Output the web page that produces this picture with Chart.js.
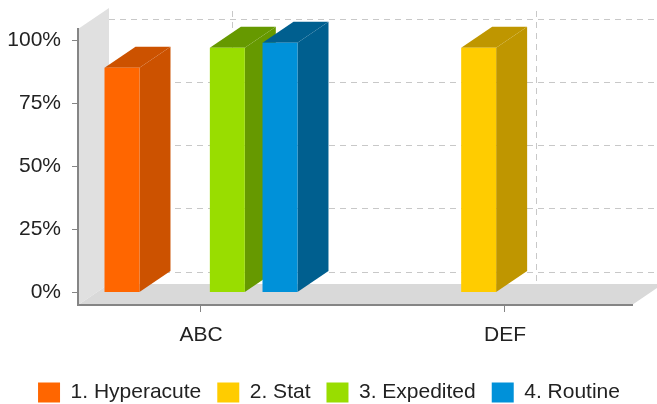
<!DOCTYPE html>
<html>
<head>
<meta charset="utf-8">
<script src="https://cdn.jsdelivr.net/npm/chart.js@4.4.1/dist/chart.umd.min.js"></script>
<style>
  body { margin: 0; background: #fff; }
  #wrap { width: 657px; height: 404px; }
</style>
</head>
<body>
<div id="wrap"><canvas id="priorityChart"></canvas></div>
<script>
// ========================
// DATA
// ========================
const categories = ["ABC", "DEF"];
const seriesNames = ["1. Hyperacute", "2. Stat", "3. Expedited", "4. Routine"];
const hyperacute = [89, null];
const stat = [null, 97];
const expedited = [97, null];
const routine = [99, null];
const yTicks = [0, 25, 50, 75, 100];

// front face / side face colours
const frontColors = ["#ff6600", "#ffcc00", "#99dd00", "#0091d9"];
const sideColors = ["#cc5200", "#bf9600", "#669900", "#005f8f"];

// depth offset of the fake 3d
const DX = 31;
const DY = -21;

// ========================
// 3D PLUGIN
// ========================
function poly(ctx, pts, fill) {
  ctx.beginPath();
  ctx.moveTo(pts[0][0], pts[0][1]);
  for (let i = 1; i < pts.length; i++) ctx.lineTo(pts[i][0], pts[i][1]);
  ctx.closePath();
  ctx.fillStyle = fill;
  ctx.fill();
}

const depthPlugin = {
  id: "depth",
  afterLayout(chart) {
    // legend is centred on the whole canvas, not the plot
    chart.legend.left += 13;
    chart.legend.right += 13;
  },
  beforeDraw(chart) {
    const { ctx, chartArea: a, scales } = chart;
    ctx.save();
    // left wall + floor
    poly(ctx, [[a.left, a.top], [a.left + DX, a.top + DY], [a.left + DX, a.bottom + DY], [a.left, a.bottom]], "#e0e0e0");
    poly(ctx, [[a.left, a.bottom], [a.left + DX, a.bottom + DY], [a.right + DX, a.bottom + DY], [a.right, a.bottom]], "#d9d9d9");

    // back wall grid
    ctx.strokeStyle = "#c8c8c8";
    ctx.lineWidth = 1;
    ctx.setLineDash([6, 5]);
    ctx.beginPath();
    yTicks.forEach(v => {
      const py = Math.round(scales.y.getPixelForValue(v) + DY) + 0.5;
      ctx.moveTo(a.left + DX, py);
      ctx.lineTo(a.right + DX, py);
    });
    categories.forEach((c, i) => {
      const px = Math.round(scales.x.getPixelForValue(i) + DX) + 0.5;
      ctx.moveTo(px, a.top + DY + 3);
      ctx.lineTo(px, a.bottom + DY);
    });
    ctx.stroke();
    ctx.restore();
  },
  beforeDatasetsDraw(chart) {
    const ctx = chart.ctx;
    const bars = [];
    chart.data.datasets.forEach((ds, di) => {
      chart.getDatasetMeta(di).data.forEach((el, i) => {
        if (ds.data[i] == null) return;
        const p = el.getProps(["x", "y", "base", "width"], true);
        bars.push({ ...p, color: sideColors[di] });
      });
    });
    // left to right, so bars on the right cover the ones before
    bars.sort((a, b) => a.x - b.x);
    ctx.save();
    bars.forEach(b => {
      const l = b.x - b.width / 2;
      const r = b.x + b.width / 2;
      poly(ctx, [[r, b.y], [r + DX, b.y + DY], [r + DX, b.base + DY], [r, b.base]], b.color);
      poly(ctx, [[l, b.y], [l + DX, b.y + DY], [r + DX, b.y + DY], [r, b.y]], b.color);
    });
    ctx.restore();
  }
};

// ========================
// CHART
// ========================
const seriesData = [hyperacute, stat, expedited, routine];
const font = { family: "'Liberation Sans', Arial, sans-serif", size: 21 };

new Chart(document.getElementById("priorityChart"), {
  type: "bar",
  data: {
    labels: categories.map((c, i) => i),
    datasets: seriesNames.map((name, i) => ({
      label: name,
      data: seriesData[i],
      backgroundColor: frontColors[i],
      borderWidth: 0,
      categoryPercentage: 0.693,
      barPercentage: 0.664
    }))
  },
  plugins: [depthPlugin],
  options: {
    responsive: true,
    maintainAspectRatio: false,
    animation: false,
    layout: { padding: { top: 29, right: 25, left: 0, bottom: 0 } },
    plugins: {
      tooltip: { enabled: false },
      legend: {
        position: "bottom",
        maxHeight: 38,
        labels: {
          boxWidth: 22,
          boxHeight: 20,
          padding: 16,
          color: "#222",
          font
        }
      }
    },
    scales: {
      x: {
        type: "linear",
        min: -0.4046,
        max: 1.4178,
        offset: false,
        afterBuildTicks: s => { s.ticks = categories.map((c, i) => ({ value: i })); },
        afterFit: s => { s.height = 61; },
        border: { display: true, color: "#858585", width: 2 },
        grid: { offset: false, drawOnChartArea: false, drawTicks: true, tickLength: 7, color: "#858585" },
        ticks: {
          padding: 11,
          color: "#222",
          font,
          callback: v => categories[v]
        }
      },
      y: {
        min: -4.95,
        max: 104.4,
        afterBuildTicks: s => { s.ticks = yTicks.map(v => ({ value: v })); },
        afterFit: s => { s.width = 78; },
        border: { display: true, color: "#858585", width: 2 },
        grid: { drawOnChartArea: false, drawTicks: true, tickLength: 6, color: "#858585" },
        ticks: {
          padding: 11,
          color: "#222",
          font,
          callback: v => v + "%"
        }
      }
    }
  }
});
</script>
</body>
</html>
